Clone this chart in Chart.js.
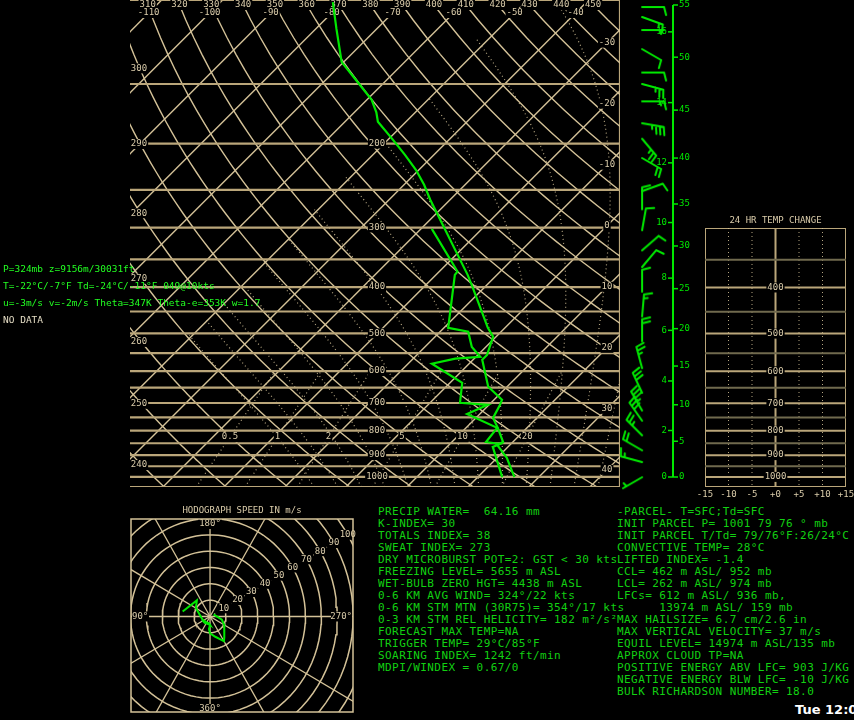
<!DOCTYPE html>
<html>
<head>
<meta charset="utf-8">
<title>Sounding</title>
<script src="https://cdn.jsdelivr.net/npm/chart.js@4.4.1/dist/chart.umd.min.js"></script>
<style>
  html, body { margin: 0; padding: 0; background: #000; }
  body { position: relative; width: 854px; height: 720px; overflow: hidden; }
  canvas { position: absolute; }
  .txt { position: absolute; white-space: pre; font-family: "DejaVu Sans Mono", monospace; }
  #cursor { left: 3px; top: 260px; font-size: 9.5px; line-height: 17px; color: #22ff22; }
  #cursor .nodata { color: #e4dcc4; }
  .stats { top: 506px; font-size: 11px; line-height: 12px; letter-spacing: 0.42px; color: #12d012; }
  #statsL { left: 378px; }
  #statsR { left: 617px; }
  #stamp { position: absolute; left: 795px; top: 702px; font: bold 13px "DejaVu Sans", sans-serif; color: #fff; white-space: pre; }
</style>
</head>
<body>
<canvas id="skewt" width="854" height="500" style="left:0;top:0"></canvas>
<canvas id="winds" width="100" height="500" style="left:620px;top:0"></canvas>
<canvas id="tchange" width="164" height="300" style="left:690px;top:200px"></canvas>
<canvas id="hodo" width="250" height="215" style="left:120px;top:505px"></canvas>
<div id="cursor" class="txt"></div>
<div id="statsL" class="txt stats"></div>
<div id="statsR" class="txt stats"></div>
<div id="stamp">Tue 12:00Z</div>
<script>
// sounding profile: pressure (mb), temperature and dewpoint (deg C)
const tempPres = [1001, 912, 857, 845, 789, 752, 706, 689, 647, 568, 555, 508, 487, 399, 377, 262, 244, 227, 211, 196, 180, 172, 162, 147, 135, 115, 101];
const tempC    = [26.0, 21.6, 17.9, 18.4, 15.2, 12.8, 11.8, 11.3, 6.9, 1.5, 1.5, -0.5, -2.8, -12.1, -14.8, -33.3, -36.7, -40.5, -44.8, -49.3, -54.6, -56.4, -59.2, -65.1, -70.3, -76.6, -81.6];
const dewPres  = [1001, 865, 853, 845, 789, 738, 706, 699, 635, 579, 565, 560, 534, 496, 487, 377, 371, 302];
const dewC     = [24.0, 17.5, 18.2, 15.6, 15.1, 7.9, 9.8, 4.9, 2.0, -6.1, -3.1, 0.7, -2.3, -5.4, -9.3, -16.9, -17.0, -28.2];

// winds: pressure (mb), direction (deg), speed (kts)
const windPres = [1001, 930, 878, 816, 760, 723, 663, 588, 516, 457, 405, 359, 331, 300, 271, 248, 211, 192, 178, 160, 147, 139, 124, 113, 106, 101];
const windDir  = [240, 285, 300, 315, 325, 330, 335, 345, 0, 5, 0, 40, 49, 10, 0, 70, 120, 140, 100, 90, 105, 90, 120, 90, 110, 90];
const windKt   = [5, 15, 20, 25, 30, 34, 30, 25, 20, 15, 10, 10, 10, 8, 10, 10, 20, 25, 34, 15, 25, 10, 10, 5, 15, 10];

// height scale beside the barbs (km on the left, kft on the right) and the pressure at each mark
const kmTicks  = [0, 2, 4, 6, 8, 10, 12, 14, 16];
const kmPres   = [1000, 797, 626, 489, 379, 289, 216, 161, 114];
const kftTicks = [0, 5, 10, 15, 20, 25, 30, 35, 40, 45, 50, 55];
const kftPres  = [1000, 840, 703, 582, 485, 399, 324, 264, 211, 167, 129, 100];

// diagram reference lines and their labels
const isobars = [100, 150, 200, 250, 300, 350, 400, 450, 500, 550, 600, 650, 700, 750, 800, 850, 900, 950, 1000, 1050];
const isobarLabels = [200, 300, 400, 500, 600, 700, 800, 900, 1000];
const isotherms = [-150, -140, -130, -120, -110, -100, -90, -80, -70, -60, -50, -40, -30, -20, -10, 0, 10, 20, 30, 40, 50];
const dryAdiabats = [200, 210, 220, 230, 240, 250, 260, 270, 280, 290, 300, 310, 320, 330, 340, 350, 360, 370, 380, 390, 400, 410, 420, 430, 440, 450, 460, 470, 480];
const moistStarts = [-8, -4, 0, 4, 8, 12, 16, 20, 24, 28, 32, 36, 40];
const moistStopT = -50;
const mixRatios = [0.5, 1, 2, 5, 10, 20];
const topThetaLabels = [310, 320, 330, 340, 350, 360, 370, 380, 390, 400, 410, 420, 430, 440, 450];
const topTempLabels = [-110, -100, -90, -80, -70, -60, -50, -40];
const leftThetaLabels = [240, 250, 260, 270, 280, 290, 300];
const rightTempLabels = [-30, -20, -10, 0, 10, 20, 30, 40];

// hodograph rings (m/s) and 24 h change axis
const hodoRings = [10, 20, 30, 40, 50, 60, 70, 80, 90, 100, 110, 120];
const hodoTop = 175;
const changeTicks = [-15, -10, -5, 0, 5, 10, 15];
const changeIsobars = [350, 400, 450, 500, 550, 600, 650, 700, 750, 800, 850, 900, 950, 1000];
const changeLabels = [400, 500, 600, 700, 800, 900, 1000];

const cursorLines = [
  'P=324mb z=9156m/30031ft',
  'T=-22°C/-7°F Td=-24°C/-11°F 049@10kts',
  'u=-3m/s v=-2m/s Theta=347K Theta-e=353K w=1.7'
];
const statsLeft = [
  'PRECIP WATER=  64.16 mm',
  'K-INDEX= 30',
  'TOTALS INDEX= 38',
  'SWEAT INDEX= 273',
  'DRY MICROBURST POT=2: GST < 30 kts',
  'FREEZING LEVEL= 5655 m ASL',
  'WET-BULB ZERO HGT= 4438 m ASL',
  '0-6 KM AVG WIND= 324°/22 kts',
  '0-6 KM STM MTN (30R75)= 354°/17 kts',
  '0-3 KM STM REL HELICITY= 182 m²/s²',
  'FORECAST MAX TEMP=NA',
  'TRIGGER TEMP= 29°C/85°F',
  'SOARING INDEX= 1242 ft/min',
  'MDPI/WINDEX = 0.67/0'
];
const statsRight = [
  '-PARCEL- T=SFC;Td=SFC',
  'INIT PARCEL P= 1001 79 76 ° mb',
  'INIT PARCEL T/Td= 79/76°F:26/24°C',
  'CONVECTIVE TEMP= 28°C',
  'LIFTED INDEX= -1.4',
  'CCL= 462 m ASL/ 952 mb',
  'LCL= 262 m ASL/ 974 mb',
  'LFCs= 612 m ASL/ 936 mb,',
  '      13974 m ASL/ 159 mb',
  'MAX HAILSIZE= 6.7 cm/2.6 in',
  'MAX VERTICAL VELOCITY= 37 m/s',
  'EQUIL LEVEL= 14974 m ASL/135 mb',
  'APPROX CLOUD TP=NA',
  'POSITIVE ENERGY ABV LFC= 903 J/KG',
  'NEGATIVE ENERGY BLW LFC= -10 J/KG',
  'BULK RICHARDSON NUMBER= 18.0'
];

const GREEN = 'rgb(0,232,0)';
const GRID = 'rgb(212,194,152)';
const ISOBAR = 'rgb(186,166,122)';
const DOTS = 'rgba(212,194,152,0.85)';
const DIM = 'rgb(112,106,78)';
const LABEL = 'rgb(218,204,170)';
const FONT = '9px "DejaVu Sans Mono", monospace';

// skewed temperature axis: x = T + SKEW * ln(1000/p)
const SKEW = 207 / 6.1;
const X_MIN = -37.05, X_MAX = 43.28;
const skewX = (t, p) => t + SKEW * Math.log(1000 / p);
const dryT = (th, p) => th * Math.pow(p / 1000, 0.2857) - 273.15;

function satMix(tc, p) {
  const es = 6.112 * Math.exp(17.67 * tc / (tc + 243.5));
  return 0.622 * es / (p - es);
}

// pseudo-adiabatic dT/dp in K per mb
function moistLapse(tc, p) {
  const T = tc + 273.15, rs = satMix(tc, p);
  const Rd = 287.04, cp = 1005.7, Lv = 2.501e6;
  return (Rd * T + Lv * rs) / (p * (cp + Lv * Lv * rs * 0.622 / (Rd * T * T)));
}

// saturated adiabat through t0 at 1000 mb, stopped once it gets very cold
function moistAdiabat(t0) {
  const pts = [];
  let t = t0;
  for (let p = 1000; p < 1050; p += 5) t += moistLapse(t, p) * 5;
  for (let p = 1050; p >= 100; p -= 5) {
    pts.push({ x: skewX(t, p), y: p });
    if (t < moistStopT) break;
    t -= moistLapse(t, p) * 5;
  }
  return pts;
}

function mixTd(w, p) {
  const e = w * p / (622 + w);
  const l = Math.log(e / 6.112);
  return 243.5 * l / (17.67 - l);
}

function line(data, color, width, dash, order) {
  return { data, showLine: true, borderColor: color, borderWidth: width, borderDash: dash || [],
           pointRadius: 0, fill: false, order: order === undefined ? 2 : order };
}

function tag(ctx, text, px, py, color) {
  const w = ctx.measureText(text).width + 2;
  ctx.fillStyle = '#000';
  ctx.fillRect(px - w / 2, py - 5, w, 10);
  ctx.fillStyle = color || LABEL;
  ctx.fillText(text, px, py);
}

const baseOptions = {
  responsive: false,
  animation: false,
  devicePixelRatio: 1,
  events: [],
  plugins: { legend: { display: false }, tooltip: { enabled: false } }
};

// ---------- skew-T / log-p ----------
const skewSets = [
  line(tempPres.map((p, i) => ({ x: skewX(tempC[i], p), y: p })), GREEN, 2.2, [], 0),
  line(dewPres.map((p, i) => ({ x: skewX(dewC[i], p), y: p })), GREEN, 2.2, [], 0)
];
isobars.forEach(p => skewSets.push(line([{ x: X_MIN, y: p }, { x: X_MAX, y: p }], ISOBAR, 2.2)));
isotherms.forEach(t => skewSets.push(line([{ x: skewX(t, 1050), y: 1050 }, { x: skewX(t, 100), y: 100 }], GRID, 1.4)));
dryAdiabats.forEach(th => {
  const pts = [];
  for (let p = 1050; p >= 100; p -= 10) pts.push({ x: skewX(dryT(th, p), p), y: p });
  skewSets.push(line(pts, GRID, 1.4));
});
moistStarts.forEach(t0 => skewSets.push(line(moistAdiabat(t0), DOTS, 1.2, [1, 3])));
mixRatios.forEach(w => {
  const pts = [];
  for (let p = 1050; p >= 600; p -= 25) pts.push({ x: skewX(mixTd(w, p), p), y: p });
  skewSets.push(line(pts, DOTS, 1.2, [1, 3]));
});
skewSets.push(line([{ x: X_MAX, y: 100 }, { x: X_MAX, y: 1050 }], ISOBAR, 2.2));

const skewLabels = {
  id: 'skewLabels',
  beforeDatasetDraw(chart, args) {
    if (args.index !== 1) return;
    const { ctx, scales: { x, y } } = chart;
    ctx.save();
    ctx.font = FONT;
    ctx.textAlign = 'center';
    ctx.textBaseline = 'middle';
    isobarLabels.forEach(p => tag(ctx, String(p), 377, y.getPixelForValue(p)));
    const pTop = y.getValueForPixel(5), pTemp = y.getValueForPixel(13);
    topThetaLabels.forEach(th => tag(ctx, String(th), x.getPixelForValue(skewX(dryT(th, pTop), pTop)), 5));
    topTempLabels.forEach(t => tag(ctx, String(t), x.getPixelForValue(skewX(t, pTemp)), 13));
    const xr = x.getValueForPixel(607);
    rightTempLabels.forEach(t => {
      const p = 1000 * Math.exp(-(xr - t) / SKEW);
      tag(ctx, String(t), 607, y.getPixelForValue(p));
    });
    // dry adiabat numbers where each line passes x = 138
    leftThetaLabels.forEach(th => {
      let lo = 100, hi = 1050;
      for (let k = 0; k < 40; k++) {
        const mid = (lo + hi) / 2;
        if (x.getPixelForValue(skewX(dryT(th, mid), mid)) < 138) lo = mid; else hi = mid;
      }
      tag(ctx, String(th), 139, y.getPixelForValue(lo) + 4);
    });
    mixRatios.forEach(w => tag(ctx, String(w), x.getPixelForValue(skewX(mixTd(w, 825), 825)), y.getPixelForValue(825)));
    ctx.restore();
  }
};

new Chart(document.getElementById('skewt'), {
  type: 'scatter',
  data: { datasets: skewSets },
  options: Object.assign({}, baseOptions, {
    layout: { padding: { left: 130, right: 234, top: 0, bottom: 13 } },
    scales: {
      x: { type: 'linear', min: X_MIN, max: X_MAX, display: false },
      y: { type: 'logarithmic', min: 100, max: 1050, reverse: true, display: false }
    }
  }),
  plugins: [skewLabels]
});

// ---------- wind barbs ----------
function barbCanvas(dir, kt) {
  const c = document.createElement('canvas');
  c.width = c.height = 60;
  const g = c.getContext('2d');
  g.strokeStyle = GREEN;
  g.lineWidth = 2;
  g.lineCap = 'round';
  const a = dir * Math.PI / 180;
  const dx = Math.sin(a), dy = -Math.cos(a);
  const fx = -dy, fy = dx;
  const L = 22, cx = 30, cy = 30;
  g.beginPath();
  g.moveTo(cx, cy);
  g.lineTo(cx + dx * L, cy + dy * L);
  let n = Math.round(kt / 5), pos = L;
  while (n >= 2) {
    g.moveTo(cx + dx * pos, cy + dy * pos);
    g.lineTo(cx + dx * (pos + 2) + fx * 8, cy + dy * (pos + 2) + fy * 8);
    n -= 2;
    pos -= 4;
  }
  if (n === 1) {
    if (pos === L) pos -= 4;
    g.moveTo(cx + dx * pos, cy + dy * pos);
    g.lineTo(cx + dx * (pos + 1) + fx * 4, cy + dy * (pos + 1) + fy * 4);
  }
  g.stroke();
  return c;
}

const BARB_X = 19, AXIS_X = 48;

const heightAxis = {
  id: 'heightAxis',
  beforeDatasetsDraw(chart) {
    const { ctx, scales: { y }, chartArea: a } = chart;
    const ax = a.left + AXIS_X;
    ctx.save();
    ctx.strokeStyle = GREEN;
    ctx.fillStyle = GREEN;
    ctx.lineWidth = 2;
    ctx.beginPath();
    ctx.moveTo(ax, a.top);
    ctx.lineTo(ax, y.getPixelForValue(1000));
    ctx.stroke();
    ctx.lineWidth = 1.5;
    ctx.font = FONT;
    ctx.textBaseline = 'middle';
    ctx.textAlign = 'left';
    kftTicks.forEach((h, i) => {
      const py = y.getPixelForValue(kftPres[i]);
      ctx.beginPath(); ctx.moveTo(ax, py); ctx.lineTo(ax + 5, py); ctx.stroke();
      ctx.fillText(String(h), ax + 6, py);
    });
    ctx.textAlign = 'right';
    kmTicks.forEach((h, i) => {
      const py = y.getPixelForValue(kmPres[i]);
      ctx.beginPath(); ctx.moveTo(ax - 5, py); ctx.lineTo(ax, py); ctx.stroke();
      ctx.fillText(String(h), ax - 6, py);
    });
    ctx.restore();
  }
};

new Chart(document.getElementById('winds'), {
  type: 'scatter',
  data: {
    datasets: [{
      data: windPres.map(p => ({ x: BARB_X, y: p })),
      pointStyle: windDir.map((d, i) => barbCanvas(d, windKt[i])),
      pointRadius: 2,
      clip: false
    }]
  },
  options: Object.assign({}, baseOptions, {
    layout: { padding: { left: 0, right: 0, top: 0, bottom: 13 } },
    scales: {
      x: { type: 'linear', min: 0, max: 100, display: false },
      y: { type: 'logarithmic', min: 100, max: 1050, reverse: true, display: false }
    }
  }),
  plugins: [heightAxis]
});

// ---------- 24 hr temperature change panel ----------
const changeSets = [];
changeIsobars.forEach(p => changeSets.push(line([{ x: -15, y: p }, { x: 15, y: p }], p % 100 === 0 ? ISOBAR : DIM, 2)));
changeTicks.forEach(v => {
  const edge = Math.abs(v) === 15 || v === 0;
  changeSets.push(line([{ x: v, y: 300 }, { x: v, y: 1050 }], edge ? ISOBAR : DOTS, edge ? 2 : 1, edge ? [] : [1, 3]));
});
changeSets.push(line([{ x: -15, y: 300 }, { x: 15, y: 300 }], ISOBAR, 2));
changeSets.push(line([{ x: -15, y: 1050 }, { x: 15, y: 1050 }], ISOBAR, 2));

const changeLabelsPlugin = {
  id: 'changeLabels',
  afterDatasetsDraw(chart) {
    const { ctx, scales: { x, y }, chartArea: a } = chart;
    ctx.save();
    ctx.font = FONT;
    ctx.textAlign = 'center';
    ctx.textBaseline = 'middle';
    changeLabels.forEach(p => tag(ctx, String(p), x.getPixelForValue(0), y.getPixelForValue(p)));
    ctx.fillStyle = LABEL;
    ctx.fillText('24 HR TEMP CHANGE', (a.left + a.right) / 2, a.top - 7);
    changeTicks.forEach(v => ctx.fillText(v > 0 ? '+' + v : v === 0 ? '+0' : String(v), x.getPixelForValue(v), a.bottom + 8));
    ctx.restore();
  }
};

new Chart(document.getElementById('tchange'), {
  type: 'scatter',
  data: { datasets: changeSets },
  options: Object.assign({}, baseOptions, {
    layout: { padding: { left: 15, right: 8, top: 28, bottom: 13 } },
    scales: {
      x: { type: 'linear', min: -15, max: 15, display: false },
      y: { type: 'logarithmic', min: 300, max: 1050, reverse: true, display: false }
    }
  }),
  plugins: [changeLabelsPlugin]
});

// ---------- hodograph ----------
const KT = 0.5144;
const hodoTrace = [];
windPres.forEach((p, i) => {
  if (p < hodoTop) return;
  const a = windDir[i] * Math.PI / 180, s = windKt[i] * KT;
  hodoTrace.push({ x: -s * Math.sin(a), y: -s * Math.cos(a) });
});

const hodoSets = [line(hodoTrace, GREEN, 2, [], 0)];
hodoRings.forEach(r => {
  const pts = [];
  for (let d = 0; d <= 360; d += 4) pts.push({ x: r * Math.cos(d * Math.PI / 180), y: r * Math.sin(d * Math.PI / 180) });
  hodoSets.push(line(pts, GRID, 1.5));
});
for (let d = 0; d < 360; d += 30) {
  const c = Math.cos(d * Math.PI / 180), s = Math.sin(d * Math.PI / 180);
  hodoSets.push(line([{ x: 0, y: 0 }, { x: 130 * c, y: 130 * s }], GRID, d === 30 ? 1.2 : 1.3, d === 30 ? [1, 4] : []));
}

const hodoLabels = {
  id: 'hodoLabels',
  beforeDatasetDraw(chart, args) {
    if (args.index !== 0) return;
    const { ctx, scales: { x, y }, chartArea: a } = chart;
    const c30 = Math.cos(Math.PI / 6), s30 = Math.sin(Math.PI / 6);
    ctx.save();
    ctx.font = FONT;
    ctx.textAlign = 'center';
    ctx.textBaseline = 'middle';
    hodoRings.filter(r => r <= 100).forEach(r => tag(ctx, String(r), x.getPixelForValue(r * c30), y.getPixelForValue(r * s30)));
    const x0 = x.getPixelForValue(0), y0 = y.getPixelForValue(0);
    tag(ctx, '180°', x0, a.top + 5);
    tag(ctx, '360°', x0, a.bottom - 3);
    ctx.textAlign = 'right';
    ctx.fillStyle = '#000';
    ctx.fillRect(a.right - 22, y0 - 5, 21, 10);
    ctx.fillStyle = LABEL;
    ctx.fillText('270°', a.right - 1, y0);
    ctx.textAlign = 'left';
    ctx.fillStyle = '#000';
    ctx.fillRect(a.left + 1, y0 - 5, 17, 10);
    ctx.fillStyle = LABEL;
    ctx.fillText('90°', a.left + 1, y0);
    ctx.textAlign = 'center';
    ctx.fillText('HODOGRAPH SPEED IN m/s', (a.left + a.right) / 2, a.top - 8);
    ctx.strokeStyle = GRID;
    ctx.lineWidth = 1.5;
    ctx.strokeRect(a.left, a.top, a.right - a.left, a.bottom - a.top);
    ctx.restore();
  }
};

new Chart(document.getElementById('hodo'), {
  type: 'scatter',
  data: { datasets: hodoSets },
  options: Object.assign({}, baseOptions, {
    layout: { padding: { left: 11, right: 17, top: 14, bottom: 8 } },
    scales: {
      x: { type: 'linear', min: -49.7, max: 89.9, display: false },
      y: { type: 'linear', min: -58.5, max: 59.7, display: false }
    }
  }),
  plugins: [hodoLabels]
});

// ---------- text panels ----------
document.getElementById('cursor').innerHTML = cursorLines.join('\n') + '\n<span class="nodata">NO DATA</span>';
document.getElementById('statsL').textContent = statsLeft.join('\n');
document.getElementById('statsR').textContent = statsRight.join('\n');
</script>
</body>
</html>
